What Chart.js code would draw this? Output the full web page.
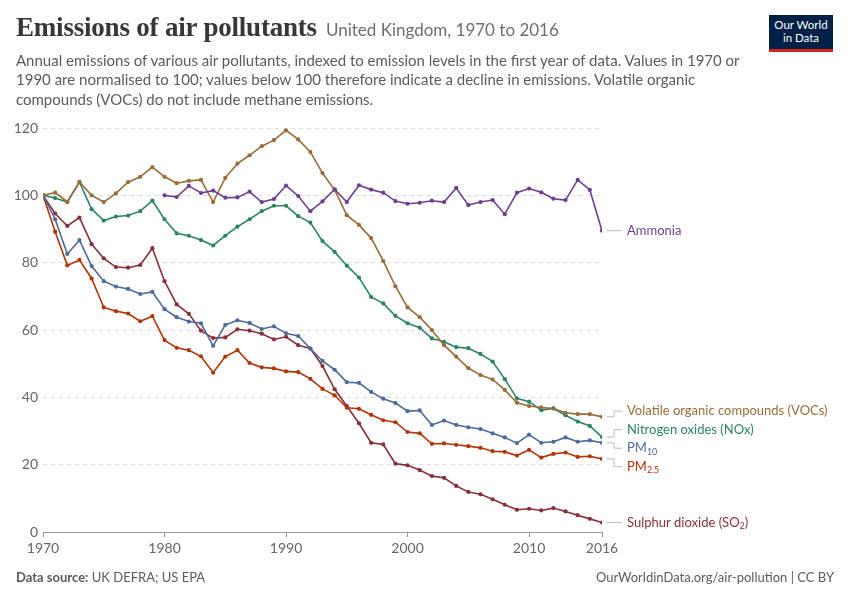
<!DOCTYPE html>
<html>
<head>
<meta charset="utf-8">
<script src="https://cdn.jsdelivr.net/npm/chart.js@4"></script>
<style>
  body { margin: 0; background: #fff; }
  #wrap { position: relative; width: 850px; height: 600px; font-family: Lato, sans-serif; }
  #chart { position: absolute; left: 0; top: 0; }
  .title { position: absolute; left: 16px; top: 12px; white-space: nowrap; }
  .title h1 { display: inline; font-family: 'Liberation Serif', serif; font-weight: bold; font-size: 27px; color: #373737; margin: 0; letter-spacing: -0.2px; }
  .title span { font-size: 17px; color: #6e6e6e; margin-left: 9px; }
  .desc { position: absolute; left: 16px; top: 51px; font-size: 15px; line-height: 19.3px; color: #5b5b5b; }
  .logo { position: absolute; left: 769px; top: 15px; width: 64px; background: #002147; border-bottom: 3px solid #ce261e;
          color: #fff; font-size: 11.5px; line-height: 13px; text-align: center; padding-top: 3px; box-sizing: content-box; height: 31px; }
  .foot { position: absolute; top: 569px; font-size: 13px; color: #5b5b5b; }
</style>
</head>
<body>
<div id="wrap">
  <canvas id="chart" width="850" height="600"></canvas>
  <div class="title"><h1>Emissions of air pollutants</h1><span>United Kingdom, 1970 to 2016</span></div>
  <div class="desc">Annual emissions of various air pollutants, indexed to emission levels in the first year of data. Values in 1970 or<br>1990 are normalised to 100; values below 100 therefore indicate a decline in emissions. Volatile organic<br>compounds (VOCs) do not include methane emissions.</div>
  <div class="logo">Our World<br>in Data</div>
  <div class="foot" style="left:16px"><b>Data source:</b> UK DEFRA; US EPA</div>
  <div class="foot" style="right:16px">OurWorldinData.org/air-pollution | CC BY</div>
</div>
<script>
// Années et séries (indice, première année = 100)
const years = [1970, 1971, 1972, 1973, 1974, 1975, 1976, 1977, 1978, 1979,
               1980, 1981, 1982, 1983, 1984, 1985, 1986, 1987, 1988, 1989,
               1990, 1991, 1992, 1993, 1994, 1995, 1996, 1997, 1998, 1999,
               2000, 2001, 2002, 2003, 2004, 2005, 2006, 2007, 2008, 2009,
               2010, 2011, 2012, 2013, 2014, 2015, 2016];
const xTicks = [1970, 1980, 1990, 2000, 2010, 2016];
const yTicks = [0, 20, 40, 60, 80, 100, 120];

const ammonia = [null, null, null, null, null, null, null, null, null, null,
                 100, 99.5, 102.8, 100.7, 101.4, 99.3, 99.4, 101.1, 98, 98.9,
                 102.9, 99.8, 95.3, 98.2, 101.8, 98, 103, 101.7, 100.8, 98.3,
                 97.5, 97.8, 98.4, 98, 102.2, 97.1, 98, 98.6, 94.4, 100.8,
                 102, 100.9, 99, 98.6, 104.6, 101.6, 89.5];
const vocs = [100, 100.8, 98.1, 104, 100, 98, 100.6, 103.9, 105.5, 108.4,
              105.5, 103.6, 104.3, 104.6, 98, 105.2, 109.4, 111.9, 114.6, 116.4,
              119.3, 116.6, 112.9, 106.6, 101.6, 94.1, 91.2, 87.3, 80.5, 73,
              66.7, 63.8, 60, 55.5, 52.1, 48.7, 46.6, 45.3, 42.2, 38.4,
              37.4, 37, 36.7, 35.4, 35, 35, 34.2];
const nox = [100, 99.2, 98, 103.9, 95.9, 92.5, 93.7, 94, 95.3, 98.4,
             92.9, 88.7, 88, 86.7, 85.1, 88, 90.7, 92.9, 95.3, 96.9,
             96.9, 93.8, 91.9, 86.4, 83.2, 79.1, 75.6, 69.8, 67.9, 64.2,
             62, 60.7, 57.5, 56.5, 54.9, 54.6, 52.9, 50.6, 45.4, 39.7,
             38.7, 36.2, 36.7, 34.7, 32.8, 31.5, 28.2];
const pm10 = [100, 92.9, 82.6, 86.7, 79, 74.5, 72.9, 72.2, 70.7, 71.3,
              66.2, 63.8, 62.5, 62, 55.3, 61.5, 62.9, 62.1, 60.3, 61.1,
              59, 58.2, 54.5, 50.8, 48.2, 44.5, 44.3, 41.6, 39.6, 38.3,
              35.9, 36.1, 31.8, 33.1, 31.8, 31.1, 30.6, 29.3, 28.1, 26.4,
              28.9, 26.5, 26.8, 28.1, 26.8, 27.2, 26.5];
const pm25 = [100, 89.2, 79.2, 80.8, 75.3, 66.7, 65.6, 64.9, 62.6, 64.1,
              57, 54.7, 54, 52.2, 47.3, 52.1, 54, 50.2, 48.9, 48.6,
              47.7, 47.5, 45.5, 42.5, 40.6, 36.9, 36.6, 34.8, 33.2, 32.6,
              29.7, 29.3, 26.2, 26.3, 25.9, 25.5, 25, 24, 23.8, 22.7,
              24.4, 22.1, 23.2, 23.6, 22.3, 22.5, 21.7];
const so2 = [100, 94.6, 90.9, 93.4, 85.5, 81.3, 78.7, 78.5, 79.3, 84.3,
             74.5, 67.6, 64.8, 59.8, 57.6, 57.8, 60.2, 59.8, 58.9, 57.2,
             58, 55.5, 54.5, 49.3, 42.4, 37.4, 32.3, 26.5, 26, 20.3,
             19.8, 18.4, 16.6, 16.1, 13.7, 11.9, 11.2, 9.7, 8.1, 6.6,
             6.9, 6.4, 7.1, 6.1, 5, 3.9, 2.8];

const seriesNames = ['Ammonia', 'Volatile organic compounds (VOCs)', 'Nitrogen oxides (NOx)',
                     'PM_{10}', 'PM_{2.5}', 'Sulphur dioxide (SO_{2})'];
const seriesValues = [ammonia, vocs, nox, pm10, pm25, so2];
const seriesColors = ['#6d3e91', '#996d39', '#2c8465', '#4c6a9c', '#b13507', '#883039'];

Chart.defaults.font.family = 'Lato';

const datasets = seriesValues.map((vals, i) => ({
    label: seriesNames[i],
    data: years.map((yr, j) => ({ x: yr, y: vals[j] })),
    borderColor: seriesColors[i],
    backgroundColor: seriesColors[i],
    borderWidth: 1.6,
    pointRadius: 2.1,
    pointBorderWidth: 0,
    tension: 0,
    spanGaps: false
}));

// Écrit un texte avec indices du type PM_{10}
function drawRich(ctx, text, x, y, size) {
    const parts = text.split(/(_\{[^}]*\})/).filter(p => p);
    parts.forEach(p => {
        if (p.startsWith('_{')) {
            const t = p.slice(2, -1);
            ctx.font = (size * 0.68) + 'px Lato';
            ctx.fillText(t, x, y + size * 0.28);
            x += ctx.measureText(t).width;
        } else {
            ctx.font = size + 'px Lato';
            ctx.fillText(p, x, y);
            x += ctx.measureText(p).width;
        }
    });
}

const endLabels = {
    id: 'endLabels',
    afterDatasetsDraw(chart) {
        const ctx = chart.ctx;
        const area = chart.chartArea;
        const gap = 18.5;
        let items = chart.data.datasets.map((ds, i) => {
            const meta = chart.getDatasetMeta(i);
            const pt = meta.data[meta.data.length - 1];
            return { i, py: pt.y, ly: pt.y };
        }).sort((a, b) => a.py - b.py);

        // regroupe les étiquettes trop proches et centre chaque groupe
        let groups = items.map(it => [it]);
        let merged = true;
        while (merged) {
            merged = false;
            for (let g = 0; g < groups.length - 1; g++) {
                const a = groups[g], b = groups[g + 1];
                const meanA = a.reduce((s, it) => s + it.py, 0) / a.length;
                const meanB = b.reduce((s, it) => s + it.py, 0) / b.length;
                const endA = meanA + (a.length - 1) * gap / 2;
                const startB = meanB - (b.length - 1) * gap / 2;
                if (startB - endA < gap) {
                    groups.splice(g, 2, a.concat(b));
                    merged = true;
                    break;
                }
            }
        }
        groups.forEach(g => {
            const mean = g.reduce((s, it) => s + it.py, 0) / g.length;
            g.forEach((it, k) => { it.ly = mean + (k - (g.length - 1) / 2) * gap; });
        });

        ctx.save();
        items.forEach(it => {
            const x0 = area.right + 5, xm = area.right + 12, x1 = area.right + 20;
            ctx.strokeStyle = '#bbb';
            ctx.lineWidth = 1;
            ctx.beginPath();
            ctx.moveTo(x0, it.py);
            ctx.lineTo(xm, it.py);
            ctx.lineTo(xm, it.ly);
            ctx.lineTo(x1, it.ly);
            ctx.stroke();
            ctx.fillStyle = seriesColors[it.i];
            ctx.textBaseline = 'middle';
            ctx.textAlign = 'left';
            drawRich(ctx, seriesNames[it.i], area.right + 25, it.ly, 13);
        });
        ctx.restore();
    }
};

new Chart(document.getElementById('chart'), {
    type: 'line',
    data: { datasets },
    options: {
        responsive: false,
        animation: false,
        events: [],
        layout: { padding: { top: 128, right: 248, bottom: 0, left: 0 } },
        plugins: { legend: { display: false }, tooltip: { enabled: false } },
        scales: {
            x: {
                type: 'linear', min: 1970, max: 2016,
                afterBuildTicks: s => { s.ticks = xTicks.map(v => ({ value: v })); },
                afterFit: s => { s.height = 68; },
                grid: { drawOnChartArea: false, drawTicks: true, tickLength: 5, color: '#999' },
                border: { display: true, color: '#999' },
                ticks: { color: '#666', font: { size: 14 }, padding: 3, maxRotation: 0, autoSkip: false,
                         callback: v => String(v) }
            },
            y: {
                min: 0, max: 120,
                afterBuildTicks: s => { s.ticks = yTicks.map(v => ({ value: v })); },
                afterFit: s => { s.width = 43; },
                grid: { color: '#dddddd', drawTicks: false },
                border: { display: false, dash: [4, 4] },
                ticks: { color: '#666', font: { size: 14 }, padding: 5 }
            }
        }
    },
    plugins: [endLabels]
});
</script>
</body>
</html>
